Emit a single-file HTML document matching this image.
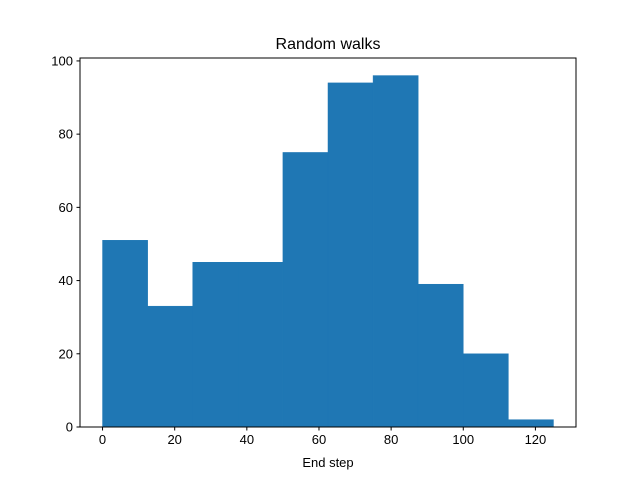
<!DOCTYPE html>
<html><head><meta charset="utf-8"><style>
body{margin:0;background:#fff;}
svg text{font-family:"Liberation Sans","DejaVu Sans",sans-serif;}
</style></head><body>
<svg id="chart" width="640" height="480" xmlns="http://www.w3.org/2000/svg">
<rect width="640" height="480" fill="#fff"/>
<g id="bars"></g>
<g id="axes"></g>
<text x="328" y="49" text-anchor="middle" font-size="16">Random walks</text>
<text x="328" y="467" text-anchor="middle" font-size="13">End step</text>
</svg>
<script>
const binEdges = [0,12.5,25,37.5,50,62.5,75,87.5,100,112.5,125];
const counts = [51,33,45,45,75,94,96,39,20,2];
const xTicks = [0,20,40,60,80,100,120];
const yTicks = [0,20,40,60,80,100];

const L=80,R=576,T=58,B=427;
const xMin=-6.25,xMax=131.25,yMin=0,yMax=100.8;
const sx=v=>L+(v-xMin)/(xMax-xMin)*(R-L);
const sy=v=>B-(v-yMin)/(yMax-yMin)*(B-T);
const NS="http://www.w3.org/2000/svg";
const bars=document.getElementById('bars');
const axes=document.getElementById('axes');
function mk(tag,attrs,parent){const e=document.createElementNS(NS,tag);for(const k in attrs)e.setAttribute(k,attrs[k]);parent.appendChild(e);return e;}

counts.forEach((c,i)=>{
  const x0=sx(binEdges[i]),x1=sx(binEdges[i+1]);
  const r=mk('rect',{x:x0,y:sy(c),width:x1-x0,height:sy(0)-sy(c),fill:'#1f77b4',stroke:'#1f77b4','stroke-width':0.5},bars);
  
  
});

const frame=mk('rect',{x:L,y:T,width:R-L,height:B-T,fill:'none',stroke:'#000','stroke-width':1},axes);



xTicks.forEach(v=>{
  const x=sx(v);
  const t=mk('line',{x1:x,x2:x,y1:B,y2:B+3.5,stroke:'#000'},axes);
  
  
  const l=mk('text',{x:x,y:B+17,'text-anchor':'middle','font-size':'13'},axes);
  l.textContent=v;
  
  
});
yTicks.forEach(v=>{
  const y=sy(v);
  const t=mk('line',{x1:L-3.5,x2:L,y1:y,y2:y,stroke:'#000'},axes);
  
  
  const l=mk('text',{x:L-7,y:y+4.5,'text-anchor':'end','font-size':'13'},axes);
  l.textContent=v;
  
  
});
</script>
</body></html>
